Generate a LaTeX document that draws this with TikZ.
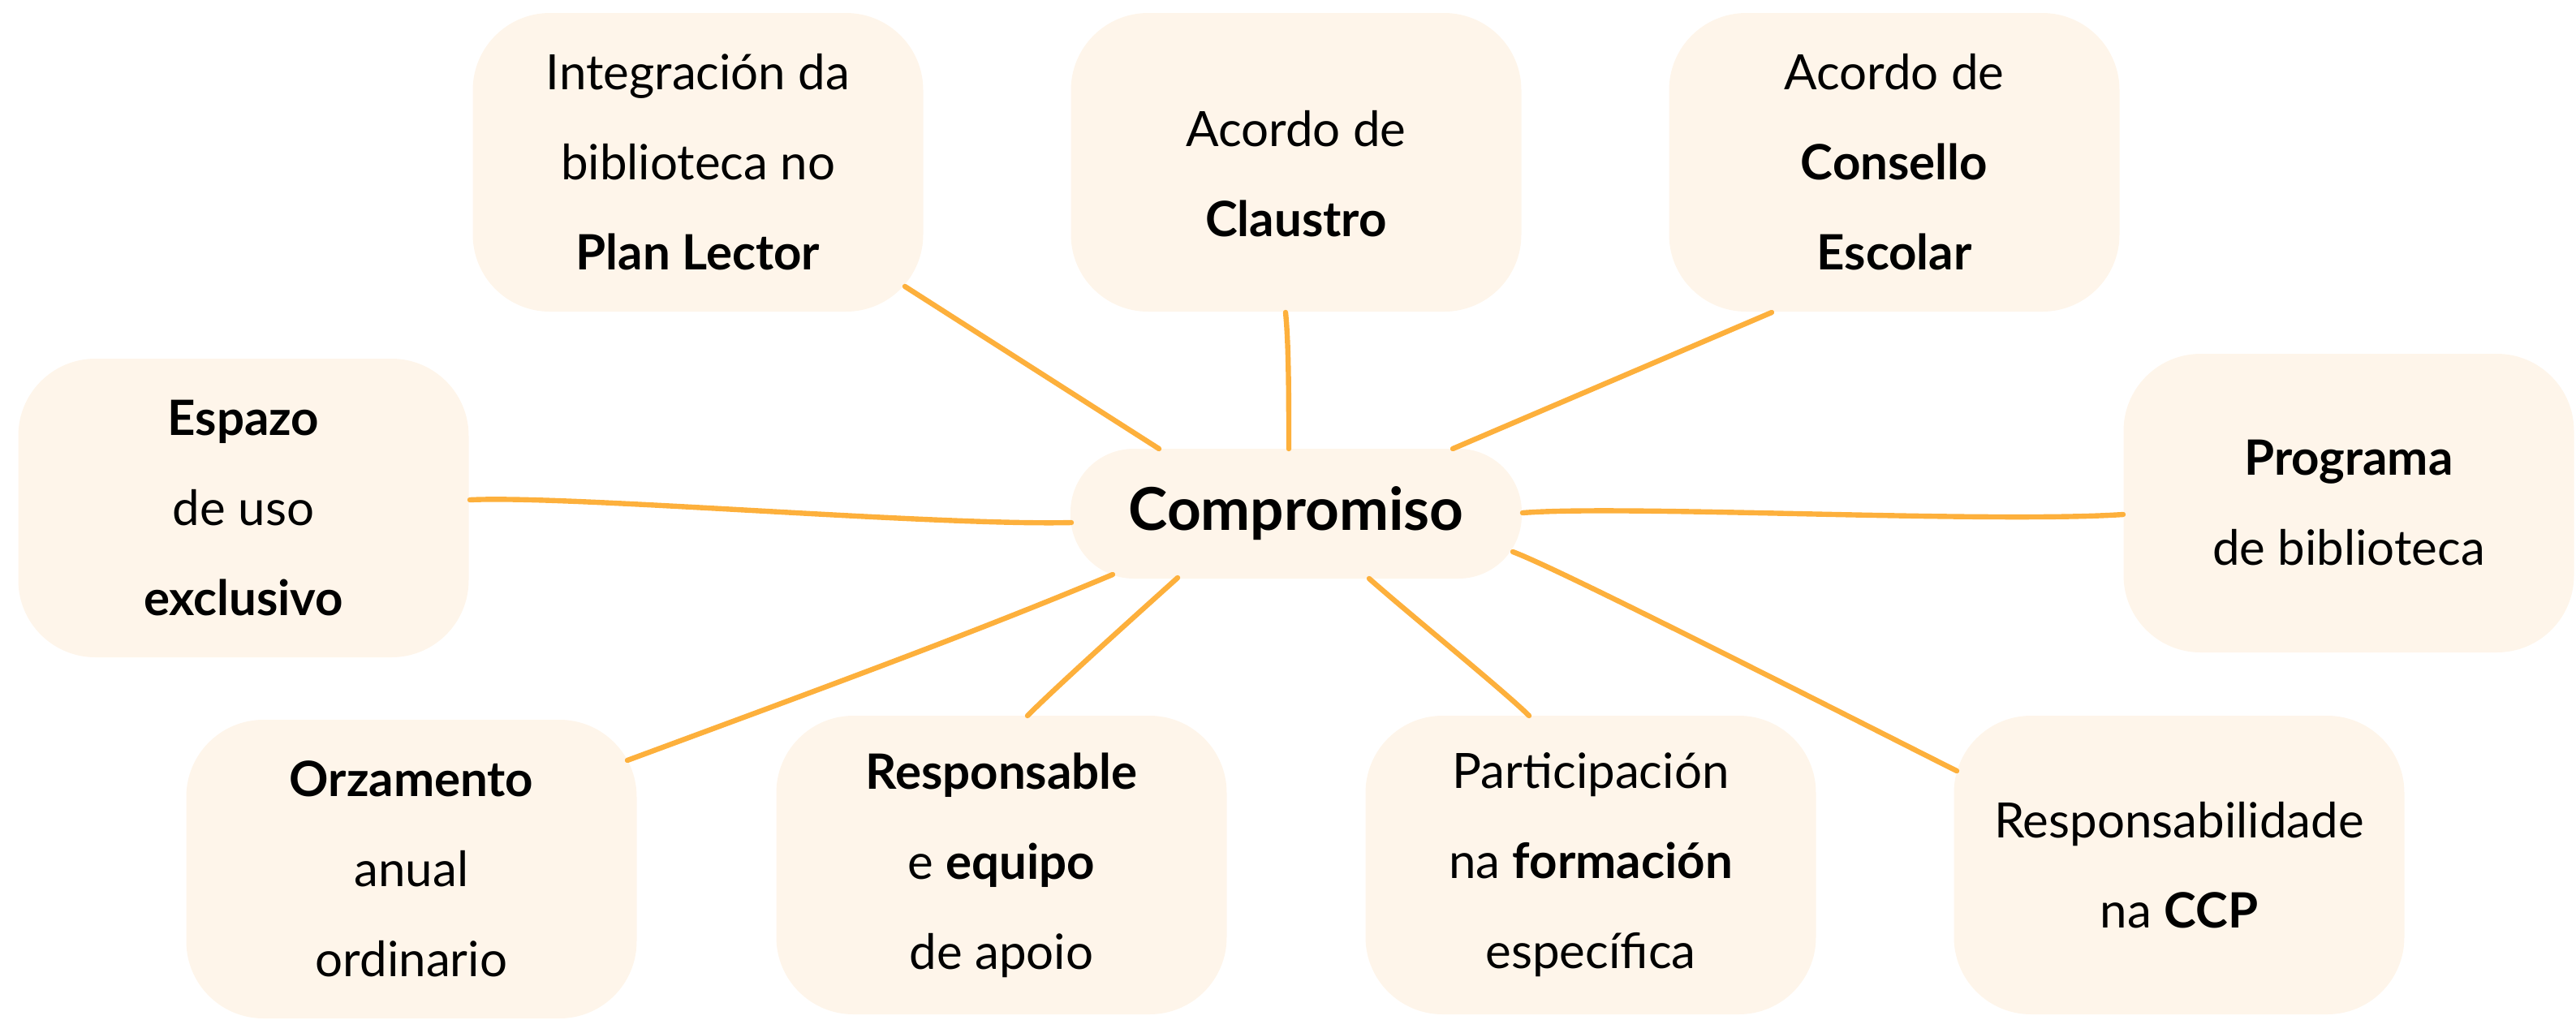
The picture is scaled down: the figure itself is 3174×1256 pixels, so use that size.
\documentclass[tikz,border=0pt]{standalone}
\usepackage{fontspec}
\setmainfont{Lato}
\usetikzlibrary{calc}
\definecolor{boxfill}{HTML}{FEF5EA}
\definecolor{linkcol}{HTML}{FDB03C}
\tikzset{
  box/.style={fill=boxfill, rounded corners=23.75pt, minimum width=138.75pt,
    minimum height=92pt, align=center, inner sep=0pt,
    font=\fontsize{15}{27.75}\selectfont},
  hub/.style={fill=boxfill, rounded corners=19.5pt, minimum width=139pt,
    minimum height=40pt, inner sep=0pt, font=\bfseries\fontsize{18.2}{20}\selectfont},
  link/.style={draw=linkcol, line width=1.6pt, line cap=round}
}
\begin{document}
\begin{tikzpicture}[x=0.25pt,y=-0.25pt]
\useasboundingbox (0,0) rectangle (3174,1256);
\node[box] (PL) at (860,200) {Integración da\\biblioteca no\\\textbf{Plan Lector}};
\node[box] (CL) at (1597,200) {\rule{0pt}{18pt}Acordo de\\\textbf{Claustro}};
\node[box] (CE) at (2334,200) {Acordo de\\\textbf{Consello}\\\textbf{Escolar}};
\node[box] (ES) at (300,626) {\textbf{Espazo}\\de uso\\\textbf{exclusivo}};
\node[box] (PR) at (2894,620) {\textbf{Programa}\\de biblioteca};
\node[box] (OR) at (507,1071) {\textbf{Orzamento}\\anual\\ordinario};
\node[box] (RE) at (1234,1066) {\textbf{Responsable}\\e \textbf{equipo}\\de apoio};
\node[box] (PA) at (1960,1066) {Participación\\na \textbf{formación}\\específica};
\node[box] (CC) at (2685,1066) {Responsabilidade\\na \textbf{CCP}};
\node[hub] (CO) at (1597,633) {Compromiso};

\draw[link] ($(PL.center)+(255,153)$) -- ($(CO.center)+(-169,-80)$);
\draw[link] ($(CL.center)+(-13,185)$) .. controls +(4,40) and +(0,-60) .. ($(CO.center)+(-9,-80)$);
\draw[link] ($(CE.center)+(-151,185)$) -- ($(CO.center)+(193,-80)$);
\draw[link] ($(ES.center)+(279,-10)$) .. controls +(120,-6) and +(-170,4) .. ($(CO.center)+(-277,11)$);
\draw[link] ($(CO.center)+(279,-1)$) .. controls +(124,-10) and +(-166,11) .. ($(PR.center)+(-278,14)$);
\draw[link] ($(OR.center)+(266,-134)$) .. controls +(227,-84) and +(-171,72) .. ($(CO.center)+(-226,75)$);
\draw[link] ($(RE.center)+(32,-184)$) .. controls +(40,-40) and +(-40,36) .. ($(CO.center)+(-146,79)$);
\draw[link] ($(CO.center)+(90,80)$) .. controls +(45,40) and +(-30,-30) .. ($(PA.center)+(-76,-184)$);
\draw[link] ($(CO.center)+(267,47)$) .. controls +(60,22) and +(-100,-50) .. ($(CC.center)+(-274,-116)$);
\end{tikzpicture}
\end{document}
